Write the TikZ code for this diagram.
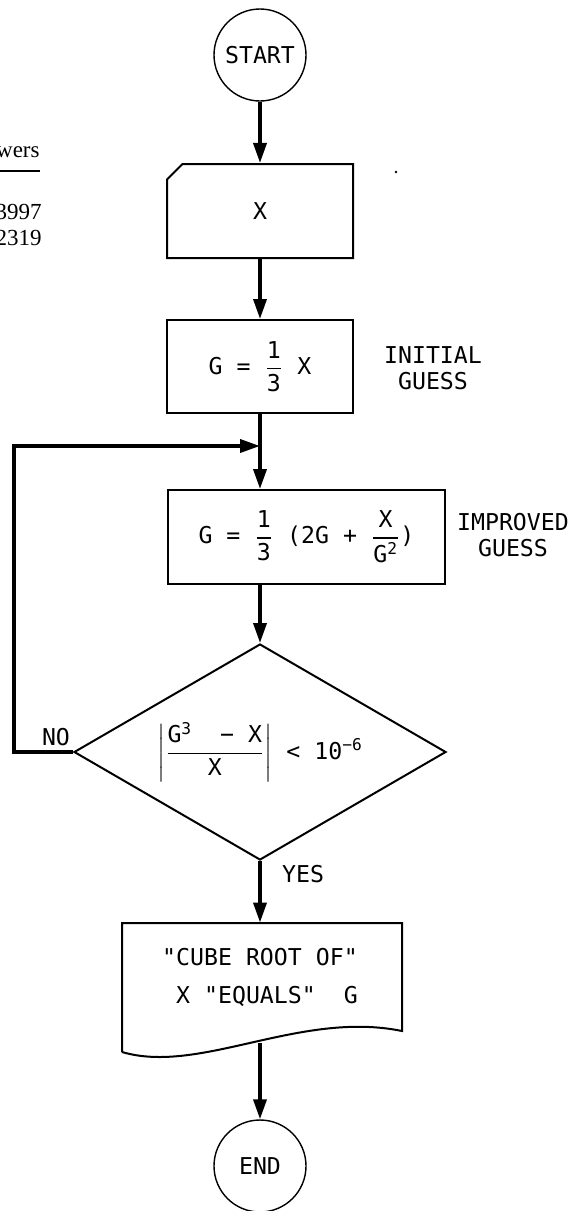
\documentclass[tikz,border=0pt]{standalone}
\usepackage{fontspec}
\usepackage{amsmath}
\usetikzlibrary{arrows.meta,shapes.geometric,shapes.misc}

\newfontfamily\lettering{DejaVu Sans Mono}[Ligatures=TeXOff]
\newfontfamily\bookfont{Liberation Serif}
\newcommand{\frc}[2]{$\genfrac{}{}{0.6pt}{0}{\text{#1}}{\text{#2}}$}

\begin{document}
\begin{tikzpicture}[x=0.5pt, y=-0.5pt,
		font=\lettering\fontsize{11.6}{13}\selectfont,
		terminal/.style={circle, draw, line width=0.7pt, minimum size=46pt, inner sep=0pt},
		box/.style={rectangle, draw, line width=1pt, inner sep=0pt},
		flowline/.style={line width=1.8pt},
		flowarrow/.style={flowline, -{Triangle[length=10pt, width=6.5pt]}}]
		\useasboundingbox (0,0) rectangle (580,1211);

		% edge of the facing page
		\node[font=\bookfont\fontsize{11.5}{13}\selectfont, anchor=east, inner sep=0pt] (answers) at (40,152) {wers};
		\draw[line width=0.6pt] (0,171) -- (40,171);
		\node[font=\bookfont\fontsize{11.5}{13}\selectfont, anchor=east, inner sep=0pt] (first) at (42,212) {3997};
		\node[font=\bookfont\fontsize{11.5}{13}\selectfont, anchor=east, inner sep=0pt] (second) at (42,238) {2319};
		\fill (396,172) circle (0.7pt);

		% main column
		\node[terminal] (start) at (260,55) {START};
		\node[box, chamfered rectangle, chamfered rectangle corners=north west,
			chamfered rectangle xsep=8.5pt, chamfered rectangle ysep=8.5pt,
			minimum width=93pt, minimum height=47pt] (card) at (260,211) {X};
		\node[box, minimum width=93pt, minimum height=46.5pt] (init) at (260,366.5) {G = \frc{1}{3} X};
		\node[box, minimum width=138.5pt, minimum height=47pt] (improved) at (306.5,537)
			{G = \frc{1}{3} (2G + \frc{X}{G\textsuperscript{2}})};
		\node[diamond, draw, line width=1pt, aspect=1.72, minimum width=186pt, minimum height=108pt,
			inner sep=0pt] (decision) at (260,752)
			{$\left|\genfrac{}{}{0.6pt}{0}{\text{G\textsuperscript{3}\ \ − X}}{\text{X}}\right|$ < 10\textsuperscript{−6}};
		\node[minimum width=140pt, minimum height=54pt, inner sep=0pt, align=left] (output) at (260,977)
			{"CUBE ROOT OF"\\[6pt]\ X "EQUALS"\ \ G};
		\draw[line width=1pt] (122,1052) -- (122,923) -- (402,923) -- (402,1031)
			.. controls (300,1010) and (200,1075) .. (122,1052);
		\node[terminal] (end) at (260,1166) {END};

		% notes
		\node[align=center] (initnote) at (433,368) {INITIAL\\GUESS};
		\node[align=center] (improvednote) at (513,535.5) {IMPROVED\\GUESS};
		\node (no) at (56,737) {NO};
		\node[anchor=west] (yes) at (275,874) {YES};

		% connectors
		\coordinate (join) at (260,446);
		\coordinate (loop) at (14,446);
		\coordinate (outbase) at (260,1043);
		\draw[flowarrow] (start) -- (card);
		\draw[flowarrow] (card) -- (init);
		\draw[flowline] (init) -- (join);
		\draw[flowarrow] (join) -- (join |- improved.north);
		\draw[flowarrow] (improved.south -| join) -- (decision);
		\draw[flowarrow] (decision.west) -| (loop) -- (join);
		\draw[flowarrow] (decision) -- (output);
		\draw[flowarrow] (outbase) -- (end);
	\end{tikzpicture}
\end{document}
